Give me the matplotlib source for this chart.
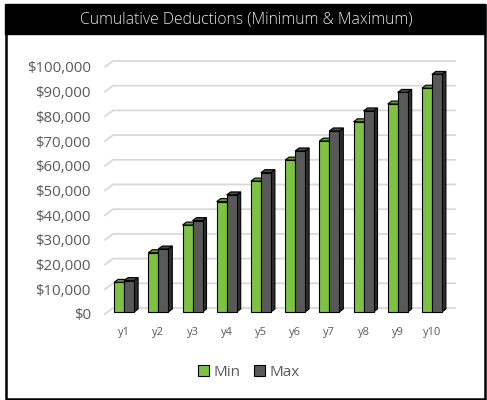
import matplotlib
matplotlib.use("Agg")
import matplotlib.pyplot as plt
from matplotlib.patches import Polygon, Rectangle
from matplotlib.lines import Line2D
import numpy as np

# data
years = ["y1", "y2", "y3", "y4", "y5", "y6", "y7", "y8", "y9", "y10"]
min_vals = [12000, 24000, 35200, 44700, 53000, 61500, 69200, 77000, 84200, 90600]
max_vals = [12700, 25500, 37000, 47400, 56400, 65200, 73300, 81400, 88900, 96200]
yticks = list(range(0, 100001, 10000))

GREEN = "#7DC242"
GREEN_TOP = "#5E9A2E"
GRAY = "#595959"
GRAY_TOP = "#454545"
GRAY_SIDE = "#2E2E2E"
TEXT = "#595959"

W, H = 487, 400
fig = plt.figure(figsize=(W / 100, H / 100), dpi=100)
fig.patch.set_facecolor("white")

plt.rcParams["font.family"] = ["Open Sans", "DejaVu Sans"]

# outer frame + title bar (figure pixel coords)
def fx(px):
    return px / W


def fy(py):
    return 1 - py / H


fig.patches.append(Rectangle((fx(5.5), fy(398.5)), fx(479), 394 / H, transform=fig.transFigure,
                             fill=False, edgecolor="black", linewidth=1.8))
fig.patches.append(Rectangle((fx(5), fy(34)), fx(479.5), 30 / H, transform=fig.transFigure,
                             facecolor="black", edgecolor="black"))
fig.text(fx(246), fy(19.5), "Cumulative Deductions (Minimum & Maximum)", color="#E8E8E8",
         fontsize=11.3, fontweight="light", ha="center", va="center")

# axes = front plane of the bars
x0_px, x1_px = 107, 449
y0_px, y1_px = 312, 65
ax = fig.add_axes([fx(x0_px), fy(y0_px), (x1_px - x0_px) / W, (y0_px - y1_px) / H])
ax.set_xlim(-0.5, len(years) - 0.5)
ax.set_ylim(0, 100000)
ax.axis("off")

px_x = (len(years)) / (x1_px - x0_px)      # data units per pixel (x)
px_y = 100000 / (y0_px - y1_px)            # data units per pixel (y)

# back-wall gridlines with a diagonal floor/side edge
for v in yticks:
    xa = -0.5 - 2 * px_x
    ya = v - 2 * px_y
    xb = -0.5 + 6 * px_x
    yb = v + 4 * px_y
    xe = len(years) - 0.5 + 6 * px_x
    ax.add_line(Line2D([xa, xb, xe], [ya, yb, yb], color="#D9D9D9", linewidth=1.3,
                       clip_on=False, zorder=1))
    ax.text(-0.5 - 16 * px_x, v - 4 * px_y, f"${v:,.0f}", ha="right", va="center",
            fontsize=10.8, color=TEXT)

# 3d-ish columns
bw = 10 * px_x
ddx = 4 * px_x
ddy = 3 * px_y
x = np.arange(len(years))


def column(left, val, front, top, side, z):
    ax.add_patch(Polygon([(left + bw, 0), (left + bw + ddx, ddy), (left + bw + ddx, val + ddy),
                          (left + bw, val)], closed=True, facecolor=side, edgecolor="black",
                         linewidth=0.8, clip_on=False, zorder=z))
    ax.add_patch(Polygon([(left, val), (left + ddx, val + ddy), (left + bw + ddx, val + ddy),
                          (left + bw, val)], closed=True, facecolor=top, edgecolor="black",
                         linewidth=0.8, clip_on=False, zorder=z))
    ax.add_patch(Rectangle((left, 0), bw, val, facecolor=front, edgecolor="black",
                           linewidth=0.8, clip_on=False, zorder=z + 0.5))


for i in range(len(years)):
    column(x[i] - bw, min_vals[i], GREEN, GREEN_TOP, GREEN_TOP, 3)
    column(x[i], max_vals[i], GRAY, GRAY_TOP, GRAY_SIDE, 4)
    ax.text(x[i], -20 * px_y, years[i], ha="center", va="center", fontsize=8, color=TEXT)

# legend
handles = [Rectangle((0, 0), 1, 1, facecolor=GREEN, edgecolor="black", linewidth=0.8),
           Rectangle((0, 0), 1, 1, facecolor=GRAY, edgecolor="black", linewidth=0.8)]
fig.legend(handles, ["Min", "Max"], loc="center", bbox_to_anchor=(fx(249), fy(372)), ncol=2,
           frameon=False, fontsize=11, handlelength=0.7, handleheight=0.7,
           handletextpad=0.3, columnspacing=0.9, labelcolor=TEXT)

fig.savefig("out.png", dpi=100)
